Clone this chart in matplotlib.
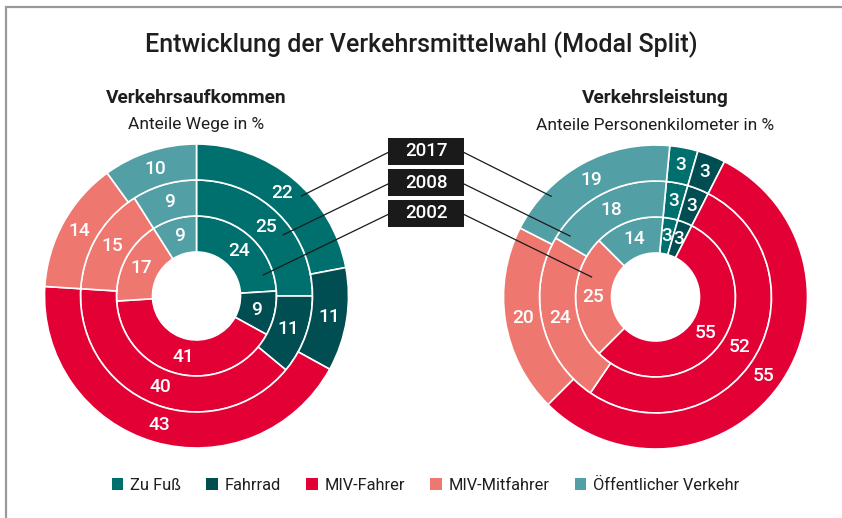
import numpy as np
import matplotlib
matplotlib.use('Agg')
import matplotlib.pyplot as plt
from matplotlib.patches import Patch, Rectangle

plt.rcParams['font.family'] = ['Roboto', 'DejaVu Sans']

# ------------------------------------------
# Data (Anteile in %)
# ------------------------------------------
modes = ['Zu Fuß', 'Fahrrad', 'MIV-Fahrer', 'MIV-Mitfahrer', 'Öffentlicher Verkehr']
years = ['2002', '2008', '2017']   # inner -> outer ring

wege_2002 = [24, 9, 41, 17, 9]
wege_2008 = [25, 11, 40, 15, 9]
wege_2017 = [22, 11, 43, 14, 10]

pkm_2002 = [3, 3, 55, 25, 14]
pkm_2008 = [3, 3, 52, 24, 18]
pkm_2017 = [3, 3, 55, 20, 19]

colors = ['#00706F', '#004D52', '#E30034', '#EE776F', '#52A0A6']

# ------------------------------------------
# Layout (pixel units, y from top)
# ------------------------------------------
W, H = 842, 518
radii = [80, 116, 152]   # outer radius of ring 2002, 2008, 2017
ring_w = 36
txt = '#1e1e1e'


def Y(y):
    return H - y


def polar(cx, cy, r, ang):
    # angle in degrees clockwise from 12 o'clock
    a = np.deg2rad(ang)
    return cx + r * np.sin(a), Y(cy) + r * np.cos(a)


fig = plt.figure(figsize=(W / 100, H / 100), dpi=100)
ax = fig.add_axes([0, 0, 1, 1])


def donut(rings, cx, cy, start):
    for vals, r in zip(rings, radii):
        ax.pie(vals, radius=r, center=(cx, Y(cy)), startangle=90 - start,
               counterclock=False, colors=colors, frame=True,
               wedgeprops=dict(width=ring_w, edgecolor='white', linewidth=1.2))
        # value labels at the middle of every segment
        cum = start + np.cumsum([0] + vals[:-1]) * 3.6
        mids = cum + np.array(vals) * 1.8
        for v, m in zip(vals, mids):
            x, y = polar(cx, cy, r - ring_w / 2, m)
            ax.text(x, y, str(v), color='white', fontsize=13.8, fontweight='medium',
                    ha='center', va='center')


left_c = (196.5, 296)
right_c = (655.5, 297)
donut([wege_2002, wege_2008, wege_2017], *left_c, 0)
donut([pkm_2002, pkm_2008, pkm_2017], *right_c, 5.4)

# ------------------------------------------
# Year boxes with pointer lines
# ------------------------------------------
box_x, box_w, box_h = 426, 76, 27
box_y = {'2017': 151, '2008': 182.5, '2002': 213}
left_ptr = {'2017': (145, 46.4), '2008': (106, 54.8), '2002': (70, 72.5)}
right_ptr = {'2017': (145, 314), '2008': (105, 305.5), '2002': (67, 287.4)}

for yr in years:
    by = box_y[yr]
    lx, ly = polar(*left_c, *left_ptr[yr])
    rx, ry = polar(*right_c, *right_ptr[yr])
    ax.plot([box_x - box_w / 2, lx], [Y(by + 1.5), ly], color='#1a1a1a', lw=0.9)
    ax.plot([box_x + box_w / 2, rx], [Y(by + 1.5), ry], color='#1a1a1a', lw=0.9)
    ax.add_patch(Rectangle((box_x - box_w / 2, Y(by + box_h / 2)), box_w, box_h,
                           facecolor='#1a1a1a', edgecolor='none', zorder=3))
    ax.text(box_x, Y(by), yr, color='white', fontsize=13.5, fontweight='medium',
            ha='center', va='center', zorder=4)

# ------------------------------------------
# Titles
# ------------------------------------------
ax.text(W / 2, Y(45), 'Entwicklung der Verkehrsmittelwahl (Modal Split)',
        fontsize=18.0, fontweight='medium', color=txt, ha='center', va='center')
ax.text(left_c[0], Y(98), 'Verkehrsaufkommen', fontsize=13.8, fontweight='bold',
        color=txt, ha='center', va='center')
ax.text(left_c[0], Y(125), 'Anteile Wege in %', fontsize=12.5,
        color=txt, ha='center', va='center')
ax.text(right_c[0], Y(98), 'Verkehrsleistung', fontsize=13.8, fontweight='bold',
        color=txt, ha='center', va='center')
ax.text(right_c[0], Y(125), 'Anteile Personenkilometer in %', fontsize=12.5,
        color=txt, ha='center', va='center')

# frame line top / left
fig.patches.append(Rectangle((6 / W, -0.1), 1.2, 1.1 - 7 / H, transform=fig.transFigure,
                             fill=False, edgecolor='#9a9a9a', linewidth=1.6))

handles = [Patch(facecolor=c, label=m) for c, m in zip(colors, modes)]
ax.legend(handles=handles, loc='center', bbox_to_anchor=(425.5 / W, 1 - 485 / H),
          bbox_transform=fig.transFigure, ncol=5, frameon=False, fontsize=11.8,
          handlelength=0.71, handleheight=0.71, handletextpad=0.4,
          columnspacing=1.55, labelcolor=txt)

ax.set_xlim(0, W)
ax.set_ylim(0, H)
ax.set_aspect('equal')
ax.axis('off')

plt.savefig('out.png', dpi=100)
